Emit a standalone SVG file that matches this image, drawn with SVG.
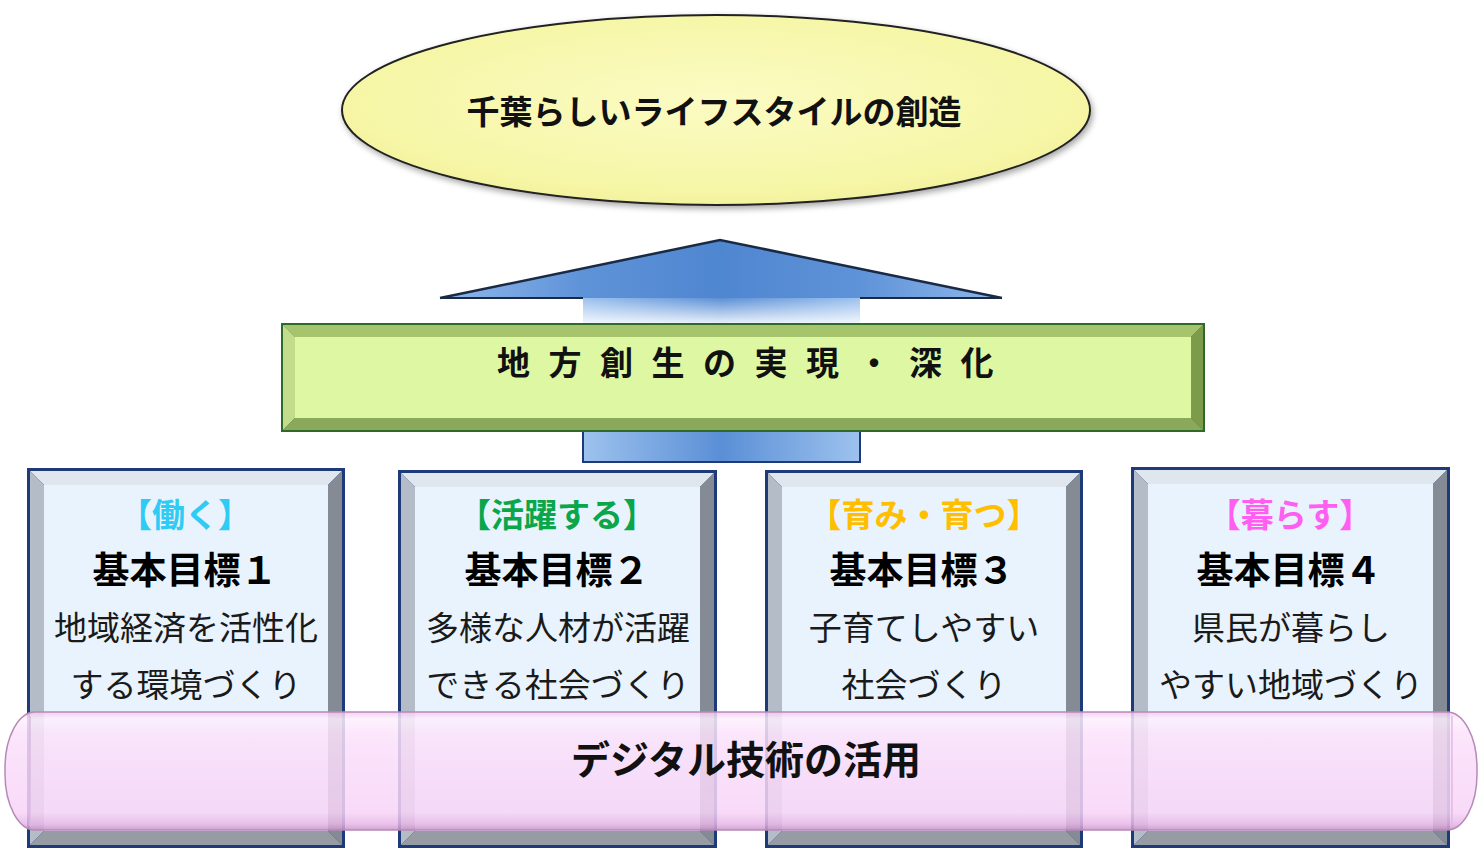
<svg xmlns="http://www.w3.org/2000/svg" width="1482" height="865" viewBox="0 0 1482 865">
<defs>
  <radialGradient id="ellG" cx="50%" cy="45%" r="60%">
    <stop offset="0" stop-color="#fbfbc4"/>
    <stop offset="0.8" stop-color="#f6f6a6"/>
    <stop offset="1" stop-color="#eeee98"/>
  </radialGradient>
  <linearGradient id="arrG" x1="0" y1="0" x2="1" y2="0">
    <stop offset="0" stop-color="#8fb8ea"/>
    <stop offset="0.25" stop-color="#5f93d8"/>
    <stop offset="0.5" stop-color="#4f86d0"/>
    <stop offset="0.75" stop-color="#5f93d8"/>
    <stop offset="1" stop-color="#8fb8ea"/>
  </linearGradient>
  <linearGradient id="shaftG" x1="0" y1="0" x2="1" y2="0">
    <stop offset="0" stop-color="#9dc2ee"/>
    <stop offset="0.5" stop-color="#5a8fd6"/>
    <stop offset="1" stop-color="#9dc2ee"/>
  </linearGradient>
  <linearGradient id="fadeG" x1="0" y1="0" x2="0" y2="1">
    <stop offset="0" stop-color="#ffffff" stop-opacity="0"/>
    <stop offset="1" stop-color="#ffffff" stop-opacity="0.85"/>
  </linearGradient>
  <linearGradient id="bandG" x1="0" y1="0" x2="0" y2="1">
    <stop offset="0" stop-color="#f4c8f4"/>
    <stop offset="0.06" stop-color="#fdf0fd"/>
    <stop offset="0.18" stop-color="#fbe2fb"/>
    <stop offset="0.5" stop-color="#f9daf9"/>
    <stop offset="0.85" stop-color="#f7d4f7"/>
    <stop offset="0.95" stop-color="#e6b6e6"/>
    <stop offset="1" stop-color="#c994c9"/>
  </linearGradient>
  <filter id="sh" x="-10%" y="-20%" width="120%" height="140%">
    <feGaussianBlur in="SourceAlpha" stdDeviation="3"/>
    <feOffset dx="2" dy="3"/>
    <feComponentTransfer><feFuncA type="linear" slope="0.35"/></feComponentTransfer>
    <feMerge><feMergeNode/><feMergeNode in="SourceGraphic"/></feMerge>
  </filter>
</defs>
<style>
  .jp { font-family: "Noto Sans CJK JP", "Noto Sans CJK SC", sans-serif; }
  .title { font-size: 33px; font-weight: 700; fill: #111; }
  .cat { font-size: 33px; font-weight: 700; text-anchor: middle; }
  .goal { font-size: 37px; font-weight: 700; fill: #000; text-anchor: middle; }
  .desc { font-size: 33px; font-weight: 400; fill: #1a1a1a; text-anchor: middle; }
  .boxOuter { fill: #1f3a78; }
  .bvTop { fill: #dfe6ee; }
  .bvLeft { fill: #b4bcc8; }
  .bvRight { fill: #858b94; }
  .bvBot { fill: #979ca4; }
  .face { fill: #e9f3fd; }
</style>

<!-- connectors: big upward arrow -->
<g id="connectors">
  <polygon points="720,240 1002,298 860,298 860,462 583,462 583,298 440,298" fill="url(#arrG)"/>
  <rect x="583" y="298" width="277" height="164" fill="url(#shaftG)"/>
  <rect x="583" y="298" width="277" height="25" fill="url(#fadeG)"/>
  <polyline points="440,298 720,240 1002,298" fill="none" stroke="#1a2a44" stroke-width="2.5"/>
  <line x1="440" y1="298" x2="583" y2="298" stroke="#1a2a44" stroke-width="2"/>
  <line x1="860" y1="298" x2="1002" y2="298" stroke="#1a2a44" stroke-width="2"/>
  <rect x="583" y="430" width="277" height="32" fill="none" stroke="#1f3a78" stroke-width="2"/>
</g>

<!-- top ellipse -->
<g id="goal-top">
  <ellipse cx="716" cy="110" rx="374" ry="95" fill="url(#ellG)" stroke="#222" stroke-width="2" filter="url(#sh)"/>
  <text class="jp title" x="714" y="124" text-anchor="middle">千葉らしいライフスタイルの創造</text>
</g>

<!-- green box -->
<g id="regional">
  <rect x="281" y="323" width="924" height="109" fill="#2f6a2a"/>
  <polygon points="283,325 1203,325 1191,337 295,337" fill="#a6c46c"/>
  <polygon points="283,325 295,337 295,418 283,430" fill="#c2dc8c"/>
  <polygon points="1203,325 1203,430 1191,418 1191,337" fill="#7c9c4c"/>
  <polygon points="283,430 295,418 1191,418 1203,430" fill="#8aa95a"/>
  <rect x="295" y="337" width="896" height="81" fill="#ddf7a2"/>
  <text class="jp" x="497" y="375" font-size="33" font-weight="700" fill="#111" letter-spacing="18.5">地方創生の実現・深化</text>
</g>

<!-- box 1 -->
<g id="goal1">
  <rect class="boxOuter" x="27" y="468" width="318" height="380"/>
  <polygon class="bvTop" points="30,471 342,471 328,485 44,485"/>
  <polygon class="bvLeft" points="30,471 44,485 44,831 30,845"/>
  <polygon class="bvRight" points="342,471 342,845 328,831 328,485"/>
  <polygon class="bvBot" points="30,845 44,831 328,831 342,845"/>
  <rect class="face" x="44" y="485" width="284" height="346"/>
  <text class="jp cat" x="185" y="527" fill="#2ecbf5">【働く】</text>
  <text class="jp goal" x="185" y="584">基本目標１</text>
  <text class="jp desc" x="186" y="640">地域経済を活性化</text>
  <text class="jp desc" x="186" y="697">する環境づくり</text>
</g>

<!-- box 2 -->
<g id="goal2">
  <rect class="boxOuter" x="398" y="470" width="319" height="378"/>
  <polygon class="bvTop" points="401,473 714,473 700,487 415,487"/>
  <polygon class="bvLeft" points="401,473 415,487 415,831 401,845"/>
  <polygon class="bvRight" points="714,473 714,845 700,831 700,487"/>
  <polygon class="bvBot" points="401,845 415,831 700,831 714,845"/>
  <rect class="face" x="415" y="487" width="285" height="344"/>
  <text class="jp cat" x="557" y="527" fill="#0aa64a">【活躍する】</text>
  <text class="jp goal" x="557" y="584">基本目標２</text>
  <text class="jp desc" x="558" y="640">多様な人材が活躍</text>
  <text class="jp desc" x="558" y="697">できる社会づくり</text>
</g>

<!-- box 3 -->
<g id="goal3">
  <rect class="boxOuter" x="765" y="470" width="318" height="378"/>
  <polygon class="bvTop" points="768,473 1080,473 1066,487 782,487"/>
  <polygon class="bvLeft" points="768,473 782,487 782,831 768,845"/>
  <polygon class="bvRight" points="1080,473 1080,845 1066,831 1066,487"/>
  <polygon class="bvBot" points="768,845 782,831 1066,831 1080,845"/>
  <rect class="face" x="782" y="487" width="284" height="344"/>
  <text class="jp cat" x="924" y="527" fill="#ffbf00">【育み・育つ】</text>
  <text class="jp goal" x="922" y="584">基本目標３</text>
  <text class="jp desc" x="924" y="640">子育てしやすい</text>
  <text class="jp desc" x="924" y="697">社会づくり</text>
</g>

<!-- box 4 -->
<g id="goal4">
  <rect class="boxOuter" x="1131" y="467" width="319" height="381"/>
  <polygon class="bvTop" points="1134,470 1447,470 1433,484 1148,484"/>
  <polygon class="bvLeft" points="1134,470 1148,484 1148,831 1134,845"/>
  <polygon class="bvRight" points="1447,470 1447,845 1433,831 1433,484"/>
  <polygon class="bvBot" points="1134,845 1148,831 1433,831 1447,845"/>
  <rect class="face" x="1148" y="484" width="285" height="347"/>
  <text class="jp cat" x="1290" y="527" fill="#ff5ef0">【暮らす】</text>
  <text class="jp goal" x="1289" y="584">基本目標４</text>
  <text class="jp desc" x="1291" y="640">県民が暮らし</text>
  <text class="jp desc" x="1291" y="697">やすい地域づくり</text>
</g>

<!-- digital band -->
<g id="digital">
  <rect x="5" y="712" width="1472" height="118" rx="30" ry="56" fill="url(#bandG)" fill-opacity="0.85" stroke="#b68ab6" stroke-width="1.5"/>
  <line x1="30" y1="716" x2="30" y2="826" stroke="#e0b8e0" stroke-width="2" opacity="0.7"/>
  <line x1="1452" y1="716" x2="1452" y2="826" stroke="#e0b8e0" stroke-width="2" opacity="0.7"/>
  <text class="jp" x="746" y="774" font-size="39" font-weight="700" fill="#111" text-anchor="middle">デジタル技術の活用</text>
</g>
</svg>
